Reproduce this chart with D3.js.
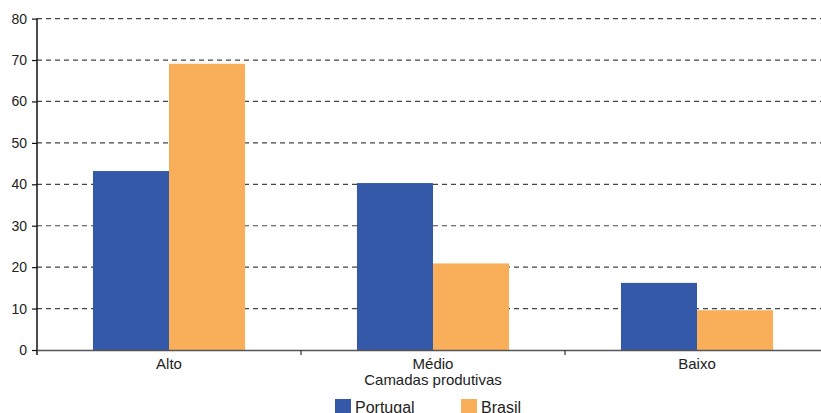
<!DOCTYPE html>
<html>
<head>
<meta charset="utf-8">
<script src="https://cdn.jsdelivr.net/npm/d3@7"></script>
<style>
  body { margin: 0; background: #fff; }
  svg { display: block; font-family: "Liberation Sans", Arial, sans-serif; }
</style>
</head>
<body>
<div id="chart"></div>
<script>
// Data
const categories = ["Alto", "Médio", "Baixo"];
const seriesNames = ["Portugal", "Brasil"];
const portugal = [43.2, 40.3, 16.2];
const brasil = [69.1, 20.9, 9.6];
const yTicks = [0, 10, 20, 30, 40, 50, 60, 70, 80];
const xTitle = "Camadas produtivas";

const colors = { Portugal: "#3459A8", Brasil: "#F9AE5A" };

const width = 821, height = 413;
const margin = { top: 18.6, right: -8, bottom: 63, left: 37 };
const innerWidth = width - margin.left - margin.right;
const innerHeight = height - margin.top - margin.bottom;

const svg = d3.select("#chart")
    .append("svg")
    .attr("width", width)
    .attr("height", height);

const g = svg.append("g")
    .attr("transform", `translate(${margin.left},${margin.top})`);

// Scales
const x = d3.scaleBand()
    .domain(categories)
    .range([0, innerWidth])
    .paddingInner(0)
    .paddingOuter(0);

const barPad = 0.212; // fraction of band left empty on each side
const x1 = d3.scaleBand()
    .domain(seriesNames)
    .range([x.bandwidth() * barPad, x.bandwidth() * (1 - barPad)]);

const y = d3.scaleLinear()
    .domain([0, 80])
    .range([innerHeight, 0]);

// Gridlines
g.append("g")
    .selectAll("line")
    .data(yTicks.filter(d => d > 0))
    .enter()
    .append("line")
    .attr("x1", 0)
    .attr("x2", innerWidth)
    .attr("y1", d => y(d))
    .attr("y2", d => y(d))
    .attr("stroke", "#444")
    .attr("stroke-width", 1.2)
    .attr("stroke-dasharray", "5,4");

// Bars
const rows = categories.map((c, i) => ({ cat: c, Portugal: portugal[i], Brasil: brasil[i] }));

g.append("g")
    .selectAll("g")
    .data(rows)
    .enter()
    .append("g")
    .attr("transform", d => `translate(${x(d.cat)},0)`)
    .selectAll("rect")
    .data(d => seriesNames.map(s => ({ key: s, value: d[s] })))
    .enter()
    .append("rect")
    .attr("x", d => x1(d.key))
    .attr("y", d => y(d.value))
    .attr("width", x1.bandwidth())
    .attr("height", d => innerHeight - y(d.value))
    .attr("fill", d => colors[d.key]);

// Y axis
const yAxis = g.append("g")
    .call(d3.axisLeft(y).tickValues(yTicks).tickSize(5).tickSizeOuter(0));
yAxis.select(".domain")
    .attr("stroke", "#111")
    .attr("stroke-width", 1.5)
    .attr("d", `M0,0V${innerHeight + 5}`);
yAxis.selectAll(".tick line").attr("stroke", "#111").attr("stroke-width", 1.2);
yAxis.selectAll("text")
    .attr("x", -10)
    .style("font-size", "14px")
    .attr("fill", "#222");

// X axis
const xAxis = g.append("g")
    .attr("transform", `translate(0,${innerHeight})`)
    .call(d3.axisBottom(x).tickSize(0).tickSizeOuter(0));
xAxis.select(".domain").attr("stroke", "#555").attr("stroke-width", 1.5);
xAxis.selectAll("text")
    .attr("dy", null)
    .attr("y", 19)
    .style("font-size", "15px")
    .attr("fill", "#222");

// boundary ticks between categories
g.append("g")
    .selectAll("line")
    .data(categories.slice(1))
    .enter()
    .append("line")
    .attr("x1", d => x(d))
    .attr("x2", d => x(d))
    .attr("y1", innerHeight)
    .attr("y2", innerHeight + 5)
    .attr("stroke", "#333")
    .attr("stroke-width", 1.2);

// X title
g.append("text")
    .attr("x", x("Médio") + x.bandwidth() / 2)
    .attr("y", innerHeight + 35)
    .attr("text-anchor", "middle")
    .style("font-size", "15px")
    .attr("fill", "#222")
    .text(xTitle);

// Legend
const legendX = [335, 461];
const legend = svg.append("g");
seriesNames.forEach((s, i) => {
    legend.append("rect")
        .attr("x", legendX[i])
        .attr("y", 399)
        .attr("width", 16)
        .attr("height", 16)
        .attr("fill", colors[s]);
    legend.append("text")
        .attr("x", legendX[i] + 20)
        .attr("y", 413)
        .style("font-size", "16px")
        .attr("fill", "#222")
        .text(s);
});
</script>
</body>
</html>
